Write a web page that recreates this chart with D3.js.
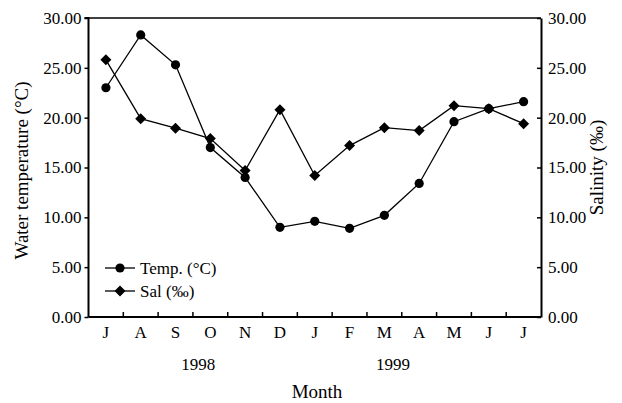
<!DOCTYPE html>
<html>
<head>
<meta charset="utf-8">
<script src="https://cdn.jsdelivr.net/npm/d3@7"></script>
<style>
  html, body { margin: 0; padding: 0; background: #fff; }
  #chart text { font-family: "Liberation Serif", "Times New Roman", serif; fill: #000; }
</style>
</head>
<body>
<svg id="chart" width="622" height="403"></svg>
<script>
// Monthly sampling, July 1998 – July 1999
const months = ["J", "A", "S", "O", "N", "D", "J", "F", "M", "A", "M", "J", "J"];
const temperature = [23.0, 28.3, 25.3, 17.0, 14.0, 9.0, 9.6, 8.9, 10.2, 13.4, 19.6, 20.9, 21.6];
const salinity = [25.8, 19.9, 18.95, 17.9, 14.7, 20.8, 14.2, 17.2, 19.0, 18.7, 21.2, 20.9, 19.4];
const yTicks = [0, 5, 10, 15, 20, 25, 30];
const years = [{ label: "1998", pos: 2.65 }, { label: "1999", pos: 8.25 }];

const svg = d3.select("#chart");
const plotLeft = 88.5, plotRight = 541, plotTop = 18, plotBottom = 317;

const x = d3.scaleBand().domain(d3.range(months.length)).range([plotLeft, plotRight]).padding(0);
const cx = i => x(i) + x.bandwidth() / 2;
const yL = d3.scaleLinear().domain([0, 30]).range([plotBottom, plotTop]);
const yR = d3.scaleLinear().domain([0, 30]).range([plotBottom, plotTop]);

// frame: top border
svg.append("line")
  .attr("x1", plotLeft).attr("x2", plotRight).attr("y1", plotTop).attr("y2", plotTop)
  .attr("stroke", "#000").attr("stroke-width", 1.5);

// left axis (temperature)
const gL = svg.append("g").attr("transform", `translate(${plotLeft},0)`)
  .call(d3.axisLeft(yL).tickValues(yTicks).tickFormat(d3.format(".2f")).tickSize(4).tickPadding(3));
// right axis (salinity)
const gR = svg.append("g").attr("transform", `translate(${plotRight},0)`)
  .call(d3.axisRight(yR).tickValues(yTicks).tickFormat(d3.format(".2f")).tickSizeInner(-4).tickSizeOuter(0).tickPadding(7));
// bottom axis (month labels)
const gB = svg.append("g").attr("transform", `translate(0,${plotBottom})`)
  .call(d3.axisBottom(x).tickFormat(i => months[i]).tickSize(0).tickPadding(9));

[gL, gR, gB].forEach(g => {
  g.attr("font-family", null).attr("font-size", 17);
  g.select(".domain").attr("stroke", "#000").attr("stroke-width", 2);
  g.selectAll(".tick line").attr("stroke", "#000").attr("stroke-width", 1.5);
});
gL.select(".domain").attr("d", `M-4,${plotTop}H0V${plotBottom}`);
gB.select(".domain").attr("d", `M${plotLeft},0H${plotRight}`);

// inward ticks at month boundaries
svg.append("g").selectAll("line")
  .data(d3.range(1, months.length))
  .join("line")
  .attr("x1", i => x(i)).attr("x2", i => x(i))
  .attr("y1", plotBottom).attr("y2", plotBottom - 5)
  .attr("stroke", "#000").attr("stroke-width", 1.5);

// year labels
svg.append("g").selectAll("text")
  .data(years)
  .join("text")
  .attr("x", d => plotLeft + d.pos * x.bandwidth() + x.bandwidth() / 2)
  .attr("y", 370)
  .attr("text-anchor", "middle")
  .attr("font-size", 17)
  .text(d => d.label);

// axis titles
svg.append("text")
  .attr("x", 317).attr("y", 398)
  .attr("text-anchor", "middle").attr("font-size", 19)
  .text("Month");
svg.append("text")
  .attr("transform", `translate(28,${(plotTop + plotBottom) / 2 + 3}) rotate(-90)`)
  .attr("text-anchor", "middle").attr("font-size", 19)
  .text("Water temperature (°C)");
svg.append("text")
  .attr("transform", `translate(603,${(plotTop + plotBottom) / 2}) rotate(-90)`)
  .attr("text-anchor", "middle").attr("font-size", 19)
  .text("Salinity (‰)");

// series
const lineT = d3.line().x((d, i) => cx(i)).y(d => yL(d));
const lineS = d3.line().x((d, i) => cx(i)).y(d => yR(d));

svg.append("path").datum(temperature).attr("d", lineT)
  .attr("fill", "none").attr("stroke", "#000").attr("stroke-width", 1.3);
svg.append("path").datum(salinity).attr("d", lineS)
  .attr("fill", "none").attr("stroke", "#000").attr("stroke-width", 1.3);

svg.append("g").selectAll("circle")
  .data(temperature)
  .join("circle")
  .attr("cx", (d, i) => cx(i)).attr("cy", d => yL(d))
  .attr("r", 4.6).attr("fill", "#000");

function diamondPath(r) { return `M0,${-r}L${r},0L0,${r}L${-r},0Z`; }
svg.append("g").selectAll("path")
  .data(salinity)
  .join("path")
  .attr("transform", (d, i) => `translate(${cx(i)},${yR(d)})`)
  .attr("d", diamondPath(5.5)).attr("fill", "#000");

// legend
const legend = svg.append("g");
const legendItems = [
  { label: "Temp. (°C)", y: 268, mark: "circle" },
  { label: "Sal (‰)", y: 291, mark: "diamond" }
];
legendItems.forEach(it => {
  legend.append("line").attr("x1", 105).attr("x2", 135).attr("y1", it.y).attr("y2", it.y)
    .attr("stroke", "#000").attr("stroke-width", 1.3);
  if (it.mark === "circle") {
    legend.append("circle").attr("cx", 120).attr("cy", it.y).attr("r", 4.6).attr("fill", "#000");
  } else {
    legend.append("path").attr("transform", `translate(120,${it.y})`).attr("d", diamondPath(5.5)).attr("fill", "#000");
  }
  legend.append("text").attr("x", 140).attr("y", it.y + 6).attr("font-size", 17).text(it.label);
});
</script>
</body>
</html>
